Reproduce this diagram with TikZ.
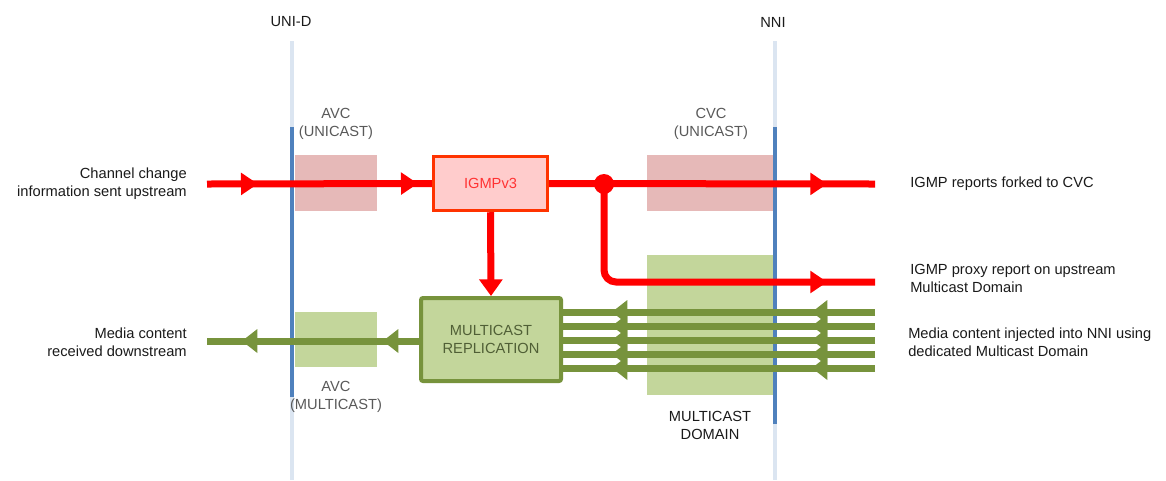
\documentclass[tikz,border=0pt]{standalone}
\usepackage{fontspec}
\setmainfont{Liberation Sans}
\usetikzlibrary{arrows.meta,decorations.markings}
\definecolor{redc}{HTML}{FF0000}
\definecolor{pinkc}{HTML}{E6B9B8}
\definecolor{igfill}{HTML}{FFCCCC}
\definecolor{igborder}{HTML}{FF3300}
\definecolor{igtext}{HTML}{FF3333}
\definecolor{olive}{HTML}{77933C}
\definecolor{lgreen}{HTML}{C3D69B}
\definecolor{darkolive}{HTML}{505F36}
\definecolor{bluec}{HTML}{4F81BD}
\definecolor{lblue}{HTML}{DBE5F1}
\definecolor{labgray}{HTML}{595959}
\definecolor{txt}{HTML}{1A1A1A}
\tikzset{
  rtip/.style={postaction={decorate,decoration={markings,mark=at position #1 with {\fill[redc] (0,0)--(-12.5pt,8.5pt)--(-12.5pt,-8.5pt)--cycle;}}}},
  gtip/.style={postaction={decorate,decoration={markings,mark=at position #1 with {\fill[olive] (0,0)--(-11.5pt,9pt)--(-11.5pt,-9pt)--cycle;}}}},
  redline/.style={draw=redc,line width=5.25pt},
  greenline/.style={draw=olive,line width=5.25pt},
  endtip/.style={-{Triangle[length=12.5pt,width=17pt]}},
  basefont/.style={font=\fontsize{11}{13.5}\selectfont},
  maintext/.style={basefont,text=txt,inner sep=0pt,align=#1},
  graylabel/.style={basefont,text=labgray,inner sep=0pt,align=center},
  ifline/.style={line width=3pt},
}
\begin{document}
\begin{tikzpicture}[x=0.75pt,y=-0.75pt]
\useasboundingbox (0,0) rectangle (1166,480);
% interface labels
\node[basefont,text=txt] (unid) at (291,22) {UNI-D};
\node[basefont,text=txt] (nni) at (773,22) {NNI};
% shaded regions
\fill[pinkc] (295,155) rectangle (377,211);
\fill[pinkc] (647,155) rectangle (773,211);
\fill[lgreen] (295,312) rectangle (377,367);
\fill[lgreen] (647,255) rectangle (773,395);
% interface lines
\draw[ifline,lblue] (292,41) -- (292,480);
\draw[ifline,bluec] (292,127) -- (292,397);
\draw[ifline,lblue] (775,41) -- (775,480);
\draw[ifline,bluec] (775,127) -- (775,424);
% region labels
\node[graylabel] (avcu) at (336,124) {AVC\\(UNICAST)};
\node[graylabel] (cvcu) at (711,124) {CVC\\(UNICAST)};
\node[graylabel] (avcm) at (336,397) {AVC\\(MULTICAST)};
\node[basefont,text=txt,inner sep=0pt,align=center] (mdom) at (710,425.5) {MULTICAST\\DOMAIN};
% boxes
\node[draw=igborder,fill=igfill,line width=2.6pt,minimum width=85.5pt,minimum height=40.5pt,inner sep=0pt,basefont,text=igtext] (igmp) at (490.5,183.5) {IGMPv3};
\node[draw=olive,fill=lgreen,line width=3pt,rounded corners=1.5pt,minimum width=105pt,minimum height=62.25pt,inner sep=0pt,basefont,text=darkolive,align=center] (repl) at (491,339.5) {MULTICAST\\REPLICATION};
\node[circle,fill=redc,minimum size=15pt,inner sep=0pt] (dot) at (604,184) {};
% free ends
\coordinate (inL) at (207,184);
\coordinate (outC) at (875,184);
\coordinate (outP) at (875,282);
\coordinate (outM) at (207,341);
% red connectors
\draw[redline,rtip=38pt,rtip=158pt] (inL) -- (igmp.west);
\draw[redline,rtip=-36pt] (igmp.east) -- (outC);
\draw[redline,rounded corners=9pt] (dot.center) |- (outP);
\path[rtip=-36pt] (dot.center |- outP) -- (outP);
\draw[redline,endtip] (igmp.south) -- (repl.north);
% green connectors
\draw[greenline,gtip=27pt,gtip=132.75pt] (repl.west |- outM) -- (outM);
\foreach \y [count=\i] in {312,326,340,354,368}{
  \coordinate (m\i) at (875,\y);
  \draw[greenline,gtip=47.25pt,gtip=197.25pt] (m\i) -- (repl.east |- m\i);
}
% side texts
\node[maintext=right,anchor=east] (tin) at (187,184) {Channel change\\information sent upstream};
\node[maintext=right,anchor=east] (tmed) at (187,342) {Media content\\received downstream};
\node[maintext=left,anchor=west] (tcvc) at (910,184) {IGMP reports forked to CVC};
\node[maintext=left,anchor=west] (tprox) at (910,278) {IGMP proxy report on upstream\\Multicast Domain};
\node[maintext=left,anchor=west] (tinj) at (908,342) {Media content injected into NNI using\\dedicated Multicast Domain};
\end{tikzpicture}
\end{document}
